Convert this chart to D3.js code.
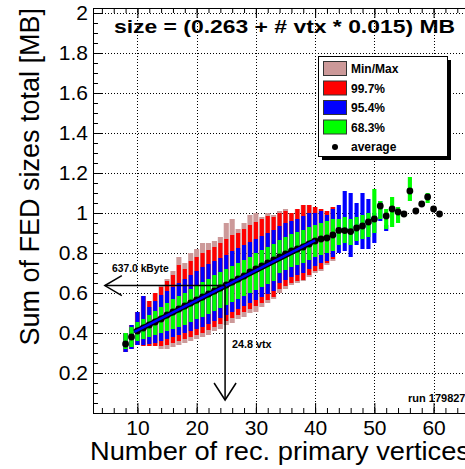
<!DOCTYPE html>
<html>
<head>
<meta charset="utf-8">
<script src="https://cdn.jsdelivr.net/npm/d3@7/dist/d3.min.js"></script>
<style>
body { margin: 0; background: #fff; }
text { font-family: "Liberation Sans", Arial, sans-serif; }
</style>
</head>
<body>
<svg id="chart" width="465" height="469"></svg>
<script>
// number of reconstructed primary vertices (bin centres)
var vtx = [8, 9, 10, 11, 12, 13, 14, 15, 16, 17, 18, 19, 20, 21, 22, 23, 24, 25, 26, 27,
    28, 29, 30, 31, 32, 33, 34, 35, 36, 37, 38, 39, 40, 41, 42, 43, 44, 45, 46, 47,
    48, 49, 50, 51, 52, 53, 54, 55, 56, 57, 58, 59, 60, 61];

// average total FED size [MB]
var average = [0.345, 0.38, 0.41, 0.425, 0.44, 0.455, 0.47, 0.49, 0.505, 0.52, 0.535, 0.55, 0.565, 0.58, 0.595, 0.61, 0.625, 0.64, 0.655, 0.67,
    0.685, 0.705, 0.72, 0.735, 0.75, 0.765, 0.78, 0.795, 0.81, 0.82, 0.83, 0.845, 0.86, 0.87, 0.875, 0.89, 0.913, 0.912, 0.907, 0.925,
    0.935, 0.955, 0.97, 1.035, 0.985, 1.02, 1.005, 0.995, 1.11, 1.01, 1.045, 1.08, 1.02, 0.995];

// min / max
var minSize = [0.305, 0.32, 0.34, 0.335, 0.335, 0.335, 0.32, 0.32, 0.33, 0.34, 0.35, 0.36, 0.37, 0.38, 0.39, 0.41, 0.42, 0.44, 0.45, 0.47,
    0.48, 0.50, 0.505, 0.53, 0.55, 0.57, 0.60, 0.62, 0.64, 0.65, 0.66, 0.68, 0.70, 0.71, 0.74, 0.76, null, null, null, null,
    null, null, null, null, null, null, null, null, null, null, null, null, null, null];
var maxSize = [0.40, 0.44, 0.505, 0.585, 0.56, 0.60, 0.64, 0.67, 0.71, 0.78, 0.75, 0.80, 0.82, 0.85, 0.85, 0.86, 0.88, 0.95, 0.97, 0.92,
    0.95, 0.99, 1.0, 0.98, 1.0, 0.99, 1.01, 1.02, 1.0, 1.02, 1.04, 1.04, 1.03, 1.02, 1.01, 1.03, null, null, null, null,
    null, null, null, null, null, null, null, null, null, null, null, null, null, null];

// 99.7% band
var lo997 = [0.305, 0.32, 0.34, 0.335, 0.335, 0.335, 0.335, 0.34, 0.35, 0.36, 0.37, 0.38, 0.39, 0.40, 0.415, 0.43, 0.445, 0.46, 0.475, 0.49,
    0.505, 0.52, 0.535, 0.55, 0.565, 0.58, 0.62, 0.635, 0.65, 0.66, 0.665, 0.69, 0.71, 0.72, 0.75, 0.77, null, null, null, null,
    null, null, null, null, null, null, null, null, null, null, null, null, null, null];
var hi997 = [0.40, 0.44, 0.505, 0.585, 0.56, 0.60, 0.63, 0.66, 0.69, 0.74, 0.72, 0.76, 0.78, 0.80, 0.815, 0.83, 0.85, 0.87, 0.89, 0.90,
    0.92, 0.94, 0.955, 0.97, 0.985, 0.98, 1.0, 1.01, 1.0, 1.02, 1.04, 1.04, 1.03, 1.02, 1.01, 1.03, null, null, null, null,
    null, null, null, null, null, null, null, null, null, null, null, null, null, null];

// 95.4% band
var lo954 = [0.305, 0.32, 0.34, 0.34, 0.345, 0.35, 0.36, 0.37, 0.38, 0.39, 0.40, 0.41, 0.42, 0.43, 0.445, 0.46, 0.475, 0.49, 0.505, 0.52,
    0.535, 0.55, 0.565, 0.58, 0.595, 0.61, 0.65, 0.665, 0.68, 0.69, 0.70, 0.72, 0.735, 0.75, 0.76, 0.78, 0.80, 0.81, 0.78, 0.84,
    0.82, 0.82, 0.85, 0.96, 0.91, null, null, null, null, null, null, null, null, null];
var hi954 = [0.40, 0.44, 0.505, 0.585, 0.53, 0.56, 0.59, 0.61, 0.63, 0.65, 0.67, 0.69, 0.71, 0.73, 0.745, 0.76, 0.775, 0.79, 0.81, 0.825,
    0.84, 0.855, 0.87, 0.885, 0.90, 0.915, 0.935, 0.95, 0.96, 0.97, 0.985, 1.0, 1.0, 1.01, 0.99, 1.02, 1.04, 1.11, 1.10, 1.05,
    1.10, 1.07, 1.0, 1.06, 0.94, null, null, null, null, null, null, null, null, null];

// 68.3% band
var lo683 = [0.32, 0.33, 0.36, 0.37, 0.38, 0.39, 0.40, 0.41, 0.42, 0.43, 0.44, 0.455, 0.47, 0.48, 0.495, 0.51, 0.525, 0.54, 0.555, 0.57,
    0.585, 0.60, 0.615, 0.63, 0.645, 0.66, 0.70, 0.715, 0.73, 0.74, 0.75, 0.765, 0.78, 0.79, 0.80, 0.81, 0.84, 0.85, 0.84, 0.86,
    0.87, 0.88, 0.90, 0.97, 0.92, 0.93, 0.95, 0.98, 1.06, null, null, 1.05, null, null];
var hi683 = [0.40, 0.43, 0.455, 0.47, 0.49, 0.51, 0.53, 0.55, 0.57, 0.585, 0.60, 0.62, 0.64, 0.655, 0.67, 0.69, 0.705, 0.72, 0.735, 0.75,
    0.765, 0.78, 0.80, 0.815, 0.83, 0.845, 0.865, 0.88, 0.895, 0.905, 0.915, 0.93, 0.94, 0.95, 0.96, 0.97, 0.97, 0.98, 0.97, 0.98,
    0.99, 1.0, 1.12, 1.06, 1.02, 1.08, 1.03, 1.01, 1.18, null, null, 1.10, null, null];

var xTicks = [10, 20, 30, 40, 50, 60];
var yTicks = [0.2, 0.4, 0.6, 0.8, 1, 1.2, 1.4, 1.6, 1.8, 2];
var fitParams = [0.263, 0.015];
var fitRange = [9.5, 40];
var crossing = [24.8, 0.637];
var legendLabels = ['Min/Max', '99.7%', '95.4%', '68.3%', 'average'];
var bandColors = ['#cc9999', '#ff0000', '#0000ff', '#00ff00'];

var svg = d3.select('#chart');
var frame = {left: 93, right: 478, top: 8, bottom: 413};

var x = d3.scaleLinear().domain([2.5, 67.5]).range([frame.left, frame.right]);
var y = d3.scaleLinear().domain([0, 2.025]).range([frame.bottom, frame.top]);

function drawGrid() {
    var g = svg.append('g').attr('class', 'grid')
        .attr('stroke', '#000').attr('stroke-width', 1).attr('stroke-dasharray', '1,2');
    g.selectAll('line.gx').data(xTicks).enter().append('line')
        .attr('x1', function (d) { return Math.round(x(d)) + 0.5; })
        .attr('x2', function (d) { return Math.round(x(d)) + 0.5; })
        .attr('y1', frame.top).attr('y2', frame.bottom);
    g.selectAll('line.gy').data(yTicks).enter().append('line')
        .attr('y1', function (d) { return Math.round(y(d)) + 0.5; })
        .attr('y2', function (d) { return Math.round(y(d)) + 0.5; })
        .attr('x1', frame.left).attr('x2', frame.right);
}

function drawAxes() {
    var xMinor = d3.range(4, 67, 2);
    var yMinor = d3.range(0.05, 2.02, 0.05);
    var fmtY = function (d) { return d === 1 || d === 2 ? String(d) : d3.format('.1f')(d); };

    var xAxis = svg.append('g').attr('transform', 'translate(0,' + frame.bottom + ')')
        .call(d3.axisBottom(x).tickValues(xTicks).tickSize(-10).tickPadding(7).tickFormat(d3.format('d')));
    svg.append('g').attr('transform', 'translate(0,' + frame.bottom + ')')
        .call(d3.axisBottom(x).tickValues(xMinor).tickSize(-5).tickFormat(''));
    svg.append('g').attr('transform', 'translate(0,' + frame.top + ')')
        .call(d3.axisTop(x).tickValues(xTicks).tickSize(-10).tickFormat(''));
    svg.append('g').attr('transform', 'translate(0,' + frame.top + ')')
        .call(d3.axisTop(x).tickValues(xMinor).tickSize(-5).tickFormat(''));

    var yAxis = svg.append('g').attr('transform', 'translate(' + frame.left + ',0)')
        .call(d3.axisLeft(y).tickValues(yTicks).tickSize(-10).tickPadding(5).tickFormat(fmtY));
    svg.append('g').attr('transform', 'translate(' + frame.left + ',0)')
        .call(d3.axisLeft(y).tickValues(yMinor).tickSize(-5).tickFormat(''));

    svg.selectAll('.domain').remove();
    svg.selectAll('.tick line').attr('stroke', '#000');
    xAxis.selectAll('text').attr('font-size', 21).attr('fill', '#000')
        .attr('font-family', '"Liberation Sans", Arial, sans-serif');
    yAxis.selectAll('text').attr('font-size', 21).attr('fill', '#000')
        .attr('font-family', '"Liberation Sans", Arial, sans-serif');

    svg.append('rect')
        .attr('x', frame.left + 0.5).attr('y', frame.top + 0.5)
        .attr('width', frame.right - frame.left).attr('height', frame.bottom - frame.top)
        .attr('fill', 'none').attr('stroke', '#000').attr('stroke-width', 1);

    svg.append('text')
        .attr('transform', 'translate(39,' + frame.top + ') rotate(-90)')
        .attr('text-anchor', 'end').attr('font-size', 27)
        .text('Sum of FED sizes total [MB]');
    svg.append('text')
        .attr('x', 90).attr('y', 460).attr('font-size', 25)
        .attr('textLength', 380).attr('lengthAdjust', 'spacingAndGlyphs')
        .text('Number of rec. primary vertices');
}

function drawBands() {
    var bands = [
        {lo: minSize, hi: maxSize, half: 0.43, color: bandColors[0]},
        {lo: lo997, hi: hi997, half: 0.35, color: bandColors[1]},
        {lo: lo954, hi: hi954, half: 0.35, color: bandColors[2]},
        {lo: lo683, hi: hi683, half: 0.35, color: bandColors[3]}
    ];
    bands.forEach(function (band) {
        var rows = vtx.map(function (v, i) {
            return {v: v, lo: band.lo[i], hi: band.hi[i]};
        }).filter(function (d) { return d.lo !== null && d.hi !== null; });
        svg.append('g').selectAll('rect').data(rows).enter().append('rect')
            .attr('x', function (d) { return x(d.v - band.half); })
            .attr('width', function (d) { return x(d.v + band.half) - x(d.v - band.half); })
            .attr('y', function (d) { return y(d.hi); })
            .attr('height', function (d) { return y(d.lo) - y(d.hi); })
            .attr('fill', band.color);
    });
}

function drawAverage() {
    svg.append('g').selectAll('circle').data(vtx).enter().append('circle')
        .attr('cx', function (d) { return x(d); })
        .attr('cy', function (d, i) { return y(average[i]); })
        .attr('r', 3.4)
        .attr('fill', '#000');

    var fit = fitRange.map(function (v) { return [v, fitParams[0] + fitParams[1] * v]; });
    var line = d3.line()
        .x(function (d) { return x(d[0]); })
        .y(function (d) { return y(d[1]); });
    svg.append('path').attr('d', line(fit)).attr('stroke', '#000').attr('stroke-width', 5).attr('fill', 'none');
    svg.append('path').attr('d', line(fit)).attr('stroke', '#0000ff').attr('stroke-width', 2.5).attr('fill', 'none');
}

function drawArrows() {
    var cx = x(crossing[0]), cy = y(crossing[1]);
    var tipX = x(4.5), tipY = y(0.065);
    var g = svg.append('g').attr('stroke', '#000').attr('stroke-width', 1.5).attr('fill', 'none');
    g.append('path').attr('d', 'M' + cx + ',' + cy + 'H' + tipX);
    g.append('path').attr('d', 'M' + (tipX + 17) + ',' + (cy - 10) + 'L' + tipX + ',' + cy + 'L' + (tipX + 17) + ',' + (cy + 10));
    g.append('path').attr('d', 'M' + cx + ',' + cy + 'V' + tipY);
    g.append('path').attr('d', 'M' + (cx - 11) + ',' + (tipY - 17) + 'L' + cx + ',' + tipY + 'L' + (cx + 11) + ',' + (tipY - 17));

    svg.append('text').attr('x', 112).attr('y', 272).attr('font-size', 10.3).attr('font-weight', 'bold')
        .text(d3.format('.1f')(crossing[1] * 1000) + ' kByte');
    svg.append('text').attr('x', 232).attr('y', 348).attr('font-size', 10.8).attr('font-weight', 'bold')
        .text(d3.format('.1f')(crossing[0]) + ' vtx');
    svg.append('text').attr('x', 408).attr('y', 402).attr('font-size', 11).attr('font-weight', 'bold')
        .text('run 179827');
}

function drawLegend() {
    var box = {x: 318, y: 56, w: 129, h: 100};
    svg.append('rect').attr('x', box.x + 4).attr('y', box.y + 4).attr('width', box.w).attr('height', box.h).attr('fill', '#000');
    svg.append('rect').attr('x', box.x + 0.5).attr('y', box.y + 0.5).attr('width', box.w).attr('height', box.h)
        .attr('fill', '#fff').attr('stroke', '#000');
    var rows = svg.append('g').selectAll('g').data(legendLabels).enter().append('g')
        .attr('transform', function (d, i) { return 'translate(' + (box.x + 5) + ',' + (box.y + 12 + i * 19.5) + ')'; });
    rows.filter(function (d, i) { return i < 4; }).append('rect')
        .attr('x', 0.5).attr('y', -6.5).attr('width', 23).attr('height', 14)
        .attr('fill', function (d, i) { return bandColors[i]; })
        .attr('stroke', '#333');
    rows.filter(function (d, i) { return i === 4; }).append('circle')
        .attr('cx', 12).attr('cy', 1).attr('r', 3).attr('fill', '#000');
    rows.append('text').attr('x', 28).attr('y', 5).attr('font-size', 12).attr('font-weight', 'bold')
        .text(function (d) { return d; });
}

drawGrid();
drawBands();
drawAverage();
drawArrows();
drawAxes();
drawLegend();

svg.append('text').attr('x', 114).attr('y', 33).attr('font-size', 19).attr('font-weight', 'bold')
    .attr('textLength', 341).attr('lengthAdjust', 'spacingAndGlyphs')
    .text('size = (' + fitParams[0] + ' + # vtx * ' + fitParams[1] + ') MB');
</script>
</body>
</html>
